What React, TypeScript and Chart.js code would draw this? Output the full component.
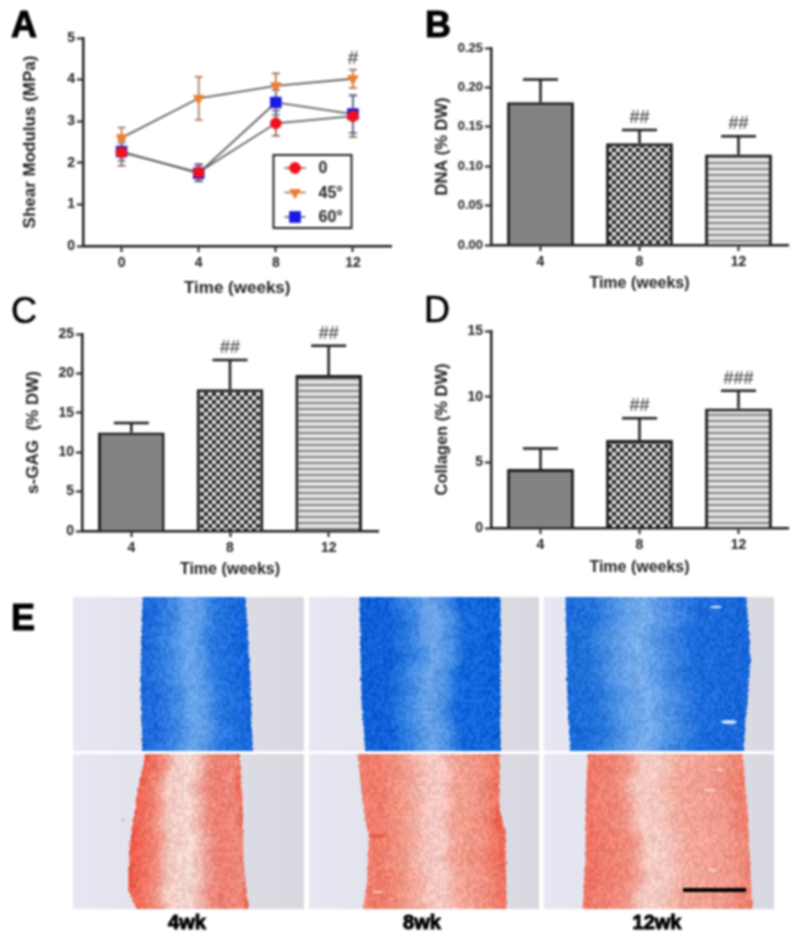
import React, { useEffect, useRef } from "react";
import { Chart, registerables } from "chart.js";
import { drawPoint } from "chart.js/helpers";

Chart.register(...registerables);

// ---------- data ----------
const weeks = [0, 4, 8, 12];
const weekTicks = [0, 4, 8, 12];
const shearTicks = [0, 1, 2, 3, 4, 5];

const shear0 = [2.25, 1.77, 2.95, 3.12];
const shear0Err = [0.32, 0.2, 0.3, 0.5];
const shear45 = [2.6, 3.55, 3.85, 4.02];
const shear45Err = [0.25, 0.52, 0.3, 0.22];
const shear60 = [2.27, 1.75, 3.45, 3.17];
const shear60Err = [0.22, 0.2, 0.3, 0.45];
const shearHash = ["", "", "", "#"];
const shearHashAt = [0, 0, 0, 4.5];

const groups = ["4", "8", "12"];

const dnaMean = [0.181, 0.129, 0.115];
const dnaUpper = [0.21, 0.146, 0.138];
const dnaHash = ["", "##", "##"];
const dnaTicks = [0, 0.05, 0.1, 0.15, 0.2, 0.25];

const gagMean = [12.5, 18.0, 19.8];
const gagUpper = [13.7, 21.7, 23.5];
const gagHash = ["", "##", "##"];
const gagTicks = [0, 5, 10, 15, 20, 25];

const colMean = [4.5, 6.7, 9.1];
const colUpper = [6.05, 8.35, 10.45];
const colHash = ["", "##", "###"];
const colTicks = [0, 5, 10, 15];

const FONT = '"Liberation Sans", Arial, sans-serif';
const INK = "#1e1e1e";
const TEXT = "#222";

// ---------- bar fills ----------
function makePattern(size: number, paint: (c: CanvasRenderingContext2D) => void) {
  const cv = document.createElement("canvas");
  cv.width = size;
  cv.height = size;
  const c = cv.getContext("2d")!;
  paint(c);
  return c.createPattern(cv, "repeat")!;
}
function patterns() {
  const gray = makePattern(2, (c) => {
    c.fillStyle = "#6e6e6e";
    c.fillRect(0, 0, 2, 2);
    c.fillStyle = "#989898";
    c.fillRect(0, 0, 1, 1);
    c.fillRect(1, 1, 1, 1);
  });
  const dots = makePattern(8, (c) => {
    c.fillStyle = "#8a8a8a";
    c.fillRect(0, 0, 8, 8);
    const dot = (x: number, y: number, col: string) => {
      c.fillStyle = col;
      c.beginPath();
      c.arc(x, y, 1.8, 0, Math.PI * 2);
      c.fill();
    };
    dot(2, 2, "#000");
    dot(6, 6, "#000");
    dot(6, 2, "#fff");
    dot(2, 6, "#fff");
  });
  const stripes = makePattern(6, (c) => {
    c.fillStyle = "#e4e4e4";
    c.fillRect(0, 0, 6, 6);
    c.fillStyle = "#808080";
    c.fillRect(0, 0, 6, 2);
  });
  return [gray, dots, stripes];
}

// ---------- plugins ----------
const barErrorPlugin = {
  id: "barError",
  afterDatasetsDraw(chart: any, _a: any, o: any) {
    const { ctx } = chart;
    const meta = chart.getDatasetMeta(0);
    const y = chart.scales.y;
    ctx.save();
    ctx.strokeStyle = INK;
    ctx.lineWidth = 2.5;
    o.upper.forEach((u: number, i: number) => {
      const x = meta.data[i].x;
      const top = y.getPixelForValue(u);
      const base = y.getPixelForValue(o.mean[i]);
      ctx.beginPath();
      ctx.moveTo(x, base);
      ctx.lineTo(x, top);
      ctx.moveTo(x - o.cap, top);
      ctx.lineTo(x + o.cap, top);
      ctx.stroke();
      if (o.hash[i]) {
        ctx.font = `18px ${FONT}`;
        ctx.fillStyle = "#2a2a2a";
        ctx.textAlign = "center";
        ctx.textBaseline = "middle";
        ctx.fillText(o.hash[i], x, top - 12);
      }
    });
    ctx.restore();
  },
};

const lineExtrasPlugin = {
  id: "lineExtras",
  beforeDatasetsDraw(chart: any, _a: any, o: any) {
    const { ctx, scales } = chart;
    ctx.save();
    ctx.lineWidth = 1.6;
    chart.data.datasets.forEach((ds: any, k: number) => {
      ctx.strokeStyle = o.errorColors[k];
      ds.data.forEach((p: any, i: number) => {
        const x = scales.x.getPixelForValue(p.x);
        const hi = scales.y.getPixelForValue(p.y + o.errors[k][i]);
        const lo = scales.y.getPixelForValue(p.y - o.errors[k][i]);
        ctx.beginPath();
        ctx.moveTo(x, hi);
        ctx.lineTo(x, lo);
        ctx.moveTo(x - 4, hi);
        ctx.lineTo(x + 4, hi);
        ctx.moveTo(x - 4, lo);
        ctx.lineTo(x + 4, lo);
        ctx.stroke();
      });
    });
    ctx.restore();
  },
  afterDatasetsDraw(chart: any, _a: any, o: any) {
    const { ctx, scales } = chart;
    ctx.save();
    // significance mark
    ctx.font = `19px ${FONT}`;
    ctx.fillStyle = "#2a2a2a";
    ctx.textAlign = "center";
    ctx.textBaseline = "middle";
    o.hash.forEach((h: string, i: number) => {
      if (h) ctx.fillText(h, scales.x.getPixelForValue(weeks[i]), scales.y.getPixelForValue(o.hashAt[i]));
    });
    // legend box
    const b = o.box;
    ctx.fillStyle = "#fff";
    ctx.fillRect(b.x, b.y, b.w, b.h);
    ctx.strokeStyle = "#222";
    ctx.lineWidth = 2;
    ctx.strokeRect(b.x, b.y, b.w, b.h);
    chart.data.datasets.forEach((ds: any, k: number) => {
      const ry = b.y + 13 + k * 24.5;
      ctx.strokeStyle = o.errorColors[k];
      ctx.lineWidth = 1.6;
      ctx.beginPath();
      ctx.moveTo(b.x + 11, ry);
      ctx.lineTo(b.x + 32, ry);
      ctx.stroke();
      ctx.fillStyle = ds.pointBackgroundColor;
      ctx.strokeStyle = ds.pointBackgroundColor;
      ctx.lineWidth = 1;
      drawPoint(ctx, {
        pointStyle: ds.pointStyle,
        radius: ds.pointRadius,
        rotation: ds.pointRotation || 0,
        borderWidth: 1,
      }, b.x + 21.5, ry);
      ctx.fillStyle = TEXT;
      ctx.font = `bold 16px ${FONT}`;
      ctx.textAlign = "left";
      ctx.textBaseline = "middle";
      ctx.fillText(ds.label, b.x + 45, ry + 1);
    });
    ctx.restore();
  },
};

// ---------- shared axis options ----------
function yAxis(label: string, ticks: number[], min: number, max: number, width: number, titleX: number, size: number, titleSize: number, digits = 0) {
  return {
    min,
    max,
    afterFit(s: any) { s.width = width; },
    afterBuildTicks(s: any) { s.ticks = ticks.map((v) => ({ value: v })); },
    border: { display: true, color: INK, width: 2.5 },
    grid: { display: true, drawOnChartArea: false, drawTicks: true, tickLength: 6, tickWidth: 2, tickColor: INK },
    ticks: {
      padding: 2,
      color: TEXT,
      font: { family: FONT, size, weight: "bold" },
      callback: (v: number) => Number(v).toFixed(digits),
      autoSkip: false,
    },
    title: {
      display: true,
      text: label,
      color: TEXT,
      font: { family: FONT, size: titleSize, weight: "bold" },
      padding: { top: titleX - titleSize * 0.6, bottom: 0 },
    },
  };
}
function xTitle(titleFromBottom: number, size: number) {
  return {
    display: true,
    text: "Time (weeks)",
    color: TEXT,
    font: { family: FONT, size, weight: "bold" },
    padding: { top: 0, bottom: titleFromBottom - size * 0.6 },
  };
}

function barConfig(fills: any[], p: any): any {
  return {
    type: "bar",
    data: {
      labels: groups,
      datasets: [{
        data: p.mean,
        backgroundColor: fills,
        borderColor: INK,
        borderWidth: 3,
        borderSkipped: "bottom",
        barPercentage: 0.675,
        categoryPercentage: 1,
      }],
    },
    options: {
      animation: false,
      responsive: false,
      layout: { padding: p.pad },
      plugins: {
        legend: { display: false },
        tooltip: { enabled: false },
        barError: { mean: p.mean, upper: p.upper, hash: p.hash, cap: 17.5 },
      },
      scales: {
        x: {
          afterFit(s: any) { s.height = p.xh; },
          border: { display: true, color: INK, width: 2.5 },
          grid: { display: true, offset: false, drawOnChartArea: false, drawTicks: true, tickLength: 6, tickWidth: 2, tickColor: INK },
          ticks: { padding: 3, color: TEXT, font: { family: FONT, size: 14, weight: "bold" } },
          title: xTitle(p.titleFromBottom, 16),
        },
        y: yAxis(p.label, p.ticks, p.min, p.max, p.yw, p.titleX, p.tickSize, p.titleSize, p.digits),
      },
    },
    plugins: [barErrorPlugin],
  };
}

function lineConfig(): any {
  const pts = (ys: number[]) => ys.map((y, i) => ({ x: weeks[i], y }));
  const base = { showLine: true, borderColor: "#606060", borderWidth: 1.8, tension: 0, pointBorderWidth: 1 };
  return {
    type: "scatter",
    data: {
      datasets: [
        { ...base, label: "0", data: pts(shear0), pointStyle: "circle", pointRadius: 5.4, pointBackgroundColor: "#f0101e", pointBorderColor: "#f0101e" },
        { ...base, label: "45°", data: pts(shear45), pointStyle: "triangle", pointRotation: 180, pointRadius: 6, pointBackgroundColor: "#ef7d2d", pointBorderColor: "#ef7d2d" },
        { ...base, label: "60°", data: pts(shear60), pointStyle: "rect", pointRadius: 7.5, pointBackgroundColor: "#1a1ae0", pointBorderColor: "#1a1ae0" },
      ],
    },
    options: {
      animation: false,
      responsive: false,
      layout: { padding: { left: 0, top: 38, right: 4, bottom: 0 } },
      plugins: {
        legend: { display: false },
        tooltip: { enabled: false },
        lineExtras: {
          errors: [shear0Err, shear45Err, shear60Err],
          errorColors: ["#8a5456", "#a86e4c", "#52688c"],
          hash: shearHash,
          hashAt: shearHashAt,
          box: { x: 273.5, y: 155, w: 78, h: 73 },
        },
      },
      scales: {
        x: {
          type: "linear",
          min: -2,
          max: 14,
          afterFit(s: any) { s.height = 54; },
          afterBuildTicks(s: any) { s.ticks = weekTicks.map((v) => ({ value: v })); },
          border: { display: true, color: INK, width: 2.5 },
          grid: { display: true, drawOnChartArea: false, drawTicks: true, tickLength: 6, tickWidth: 2, tickColor: INK },
          ticks: { padding: 3, color: TEXT, font: { family: FONT, size: 14, weight: "bold" } },
          title: xTitle(12, 17),
        },
        y: yAxis("Shear Modulus (MPa)", shearTicks, 0, 5, 83, 30, 14, 17),
      },
    },
    plugins: [lineExtrasPlugin],
  };
}

// ---------- stained sections (photographs in the reference) ----------
type Stop = [number, string];
const BLUE1: Stop[] = [[0, "#1c68d8"], [0.1, "#1c6adc"], [0.3, "#4088e4"], [0.45, "#6aa6ec"], [0.56, "#5c9ce8"], [0.68, "#2c7ae0"], [0.82, "#1e6edc"], [1, "#1464dc"]];
const BLUE2: Stop[] = [[0, "#1060d8"], [0.2, "#0e60d8"], [0.36, "#3a86e2"], [0.5, "#6ca4e8"], [0.62, "#4a90e4"], [0.72, "#1268dc"], [1, "#0e62d8"]];
const BLUE3: Stop[] = [[0, "#1a6ad8"], [0.15, "#2474dc"], [0.3, "#5a9ae6"], [0.42, "#78aeec"], [0.56, "#4a8ee4"], [0.72, "#1c6cdc"], [1, "#1666d8"]];
const RED1: Stop[] = [[0, "#ef5a48"], [0.1, "#f0705f"], [0.22, "#f09080"], [0.32, "#f2c8c0"], [0.5, "#f4d8d2"], [0.6, "#f0b8ae"], [0.7, "#ee8c80"], [0.8, "#ec7c70"], [0.95, "#ee8a7c"], [1, "#ef6a58"]];
const RED2: Stop[] = [[0, "#f08070"], [0.1, "#ef7a68"], [0.3, "#f09c8c"], [0.45, "#f4c4bc"], [0.55, "#f6ccc6"], [0.65, "#f2a698"], [0.85, "#f0907e"], [1, "#ee6a58"]];
const RED3: Stop[] = [[0, "#ee7464"], [0.2, "#f08878"], [0.27, "#f09688"], [0.35, "#f4c8c0"], [0.45, "#f4ccc4"], [0.6, "#f2a89a"], [0.85, "#f09a8c"], [1, "#ee7e6c"]];

const sections = [
  { x: [73, 304], y: [597, 751], left: [[597, 142], [680, 140], [751, 142]], right: [[597, 245], [680, 250], [751, 252]], stops: BLUE1 },
  { x: [309, 539], y: [597, 751], left: [[597, 359], [700, 361], [751, 365]], right: [[597, 500], [751, 500]], stops: BLUE2 },
  { x: [544, 774], y: [597, 751], left: [[597, 565], [700, 567], [751, 570]], right: [[597, 746], [660, 750], [700, 747], [751, 743]], stops: BLUE3 },
  { x: [73, 304], y: [754, 909], left: [[754, 145], [790, 137], [845, 129], [890, 128], [909, 136]], right: [[754, 239], [800, 242], [860, 243], [909, 248]], stops: RED1 },
  { x: [309, 539], y: [754, 909], left: [[754, 357], [810, 363], [835, 368], [880, 367], [909, 362]], right: [[754, 499], [810, 499], [830, 505], [909, 506]], stops: RED2 },
  { x: [544, 774], y: [754, 909], left: [[754, 587], [810, 585], [860, 585], [909, 582]], right: [[754, 742], [810, 747], [909, 752]], stops: RED3 },
];
const scaleBar = { x: 683, y: 888, w: 63, h: 4 };
// visible features of the photographs: [x, y, rx, ry, colour]
const flecks: [number, number, number, number, string][] = [
  [430, 625, 12, 22, "rgba(122,170,236,0.4)"],
  [716, 607, 6, 1.5, "rgba(240,248,255,0.8)"],
  [729, 722, 8, 2, "rgba(240,248,255,0.85)"],
  [378, 836, 9, 1.5, "rgba(226,64,48,0.7)"],
  [498, 820, 3, 12, "rgba(232,76,60,0.5)"],
  [378, 892, 5, 1, "rgba(255,240,232,0.8)"],
  [710, 790, 5, 1, "rgba(255,240,232,0.7)"],
  [720, 770, 4, 1, "rgba(255,240,232,0.6)"],
  [712, 870, 4, 1.5, "rgba(255,240,232,0.6)"],
  [123, 820, 1.5, 1.5, "rgba(170,170,180,0.7)"],
];

const rgb = (h: string) => [1, 3, 5].map((i) => parseInt(h.slice(i, i + 2), 16));
const lerp = (a: number, b: number, t: number) => a + (b - a) * t;
function edge(pts: number[][], y: number) {
  for (let i = 1; i < pts.length; i++) {
    if (y <= pts[i][0]) {
      return lerp(pts[i - 1][1], pts[i][1], (y - pts[i - 1][0]) / (pts[i][0] - pts[i - 1][0]));
    }
  }
  return pts[pts.length - 1][1];
}
const grain = (a: number, b: number) => {
  const s = Math.sin(a * 12.9898 + b * 78.233) * 43758.5453;
  return (s - Math.floor(s)) * 2 - 1;
};
function drawSections(cv: HTMLCanvasElement) {
  const c = cv.getContext("2d")!;
  const W = cv.width;
  const H = cv.height;
  const img = c.createImageData(W, H);
  const d = img.data;
  for (let i = 0; i < d.length; i += 4) { d[i] = d[i + 1] = d[i + 2] = 255; d[i + 3] = 255; }
  sections.forEach((s) => {
    const st = s.stops.map(([t, h]) => [t, ...rgb(h)] as number[]);
    for (let py = s.y[0]; py < s.y[1]; py++) {
      const L = edge(s.left, py) + grain(py, 3) * 0.8;
      const R = edge(s.right, py) + grain(py, 7) * 0.8;
      for (let px = s.x[0]; px < s.x[1]; px++) {
        const k = (py * W + px) * 4;
        const f = (px - s.x[0]) / (s.x[1] - s.x[0]);
        let col: number[];
        if (px < L || px >= R) {
          col = [lerp(231, 216, f), lerp(231, 216, f), lerp(243, 224, f)];
        } else {
          const t = Math.min(1, Math.max(0, (px - L) / (R - L) + 0.03 * Math.sin(py * 0.045 + s.x[0]) + 0.015 * Math.sin(py * 0.17)));
          let j = 1;
          while (j < st.length - 1 && t > st[j][0]) j++;
          const u = (t - st[j - 1][0]) / (st[j][0] - st[j - 1][0]);
          const n = grain(Math.floor(px / 2), Math.floor(py / 3)) * 15;
          col = [1, 2, 3].map((q) => lerp(st[j - 1][q], st[j][q], u) + n);
        }
        d[k] = col[0]; d[k + 1] = col[1]; d[k + 2] = col[2];
      }
    }
  });
  c.putImageData(img, 0, 0);
  flecks.forEach(([x, y, rx, ry, col]) => {
    c.fillStyle = col;
    c.beginPath();
    c.ellipse(x, y, rx, ry, 0, 0, Math.PI * 2);
    c.fill();
  });
  c.fillStyle = "#000";
  c.fillRect(scaleBar.x, scaleBar.y, scaleBar.w, scaleBar.h);
}

// ---------- page ----------
const panelLetters = [
  { t: "A", x: 11, base: 37, heavy: true },
  { t: "B", x: 425, base: 37, heavy: true },
  { t: "C", x: 11, base: 323, heavy: false },
  { t: "D", x: 424, base: 322, heavy: false },
  { t: "E", x: 11, base: 630, heavy: true },
];
const stainLabels = [
  { t: "4wk", x: 187 },
  { t: "8wk", x: 422 },
  { t: "12wk", x: 657 },
];
const place = [
  { left: 0, top: 0, width: 400, height: 300 },
  { left: 400, top: 0, width: 400, height: 300 },
  { left: 0, top: 300, width: 400, height: 290 },
  { left: 400, top: 300, width: 400, height: 290 },
];

export default function App() {
  const a = useRef<HTMLCanvasElement>(null);
  const b = useRef<HTMLCanvasElement>(null);
  const c = useRef<HTMLCanvasElement>(null);
  const d = useRef<HTMLCanvasElement>(null);
  const e = useRef<HTMLCanvasElement>(null);

  useEffect(() => {
    const fills = patterns();
    const charts = [
      new Chart(a.current!, lineConfig()),
      new Chart(b.current!, barConfig(fills, {
        mean: dnaMean, upper: dnaUpper, hash: dnaHash, label: "DNA (% DW)", ticks: dnaTicks, min: 0, max: 0.25,
        yw: 91, xh: 55, titleX: 42, titleFromBottom: 16, tickSize: 13, titleSize: 16.5, digits: 2,
        pad: { left: 0, top: 48, right: 12, bottom: 0 },
      })),
      new Chart(c.current!, barConfig(fills, {
        mean: gagMean, upper: gagUpper, hash: gagHash, label: "s-GAG  (% DW)", ticks: gagTicks, min: 0, max: 25,
        yw: 82, xh: 59, titleX: 33, titleFromBottom: 20, tickSize: 14, titleSize: 17, digits: 0,
        pad: { left: 0, top: 34, right: 22, bottom: 0 },
      })),
      new Chart(d.current!, barConfig(fills, {
        mean: colMean, upper: colUpper, hash: colHash, label: "Collagen (% DW)", ticks: colTicks, min: 0, max: 15,
        yw: 91, xh: 62, titleX: 42, titleFromBottom: 22, tickSize: 14, titleSize: 16.5, digits: 0,
        pad: { left: 0, top: 31, right: 12, bottom: 0 },
      })),
    ];
    drawSections(e.current!);
    return () => charts.forEach((ch) => ch.destroy());
  }, []);

  const refs = [a, b, c, d];
  return (
    <div style={{ position: "absolute", left: 0, top: 0, width: 800, height: 947, overflow: "hidden", background: "#fff", filter: "blur(0.8px)" }}>
      <canvas ref={e} width={800} height={947} style={{ position: "absolute", left: 0, top: 0 }} />
      {refs.map((r, i) => (
        <canvas key={i} ref={r} width={place[i].width} height={place[i].height} style={{ position: "absolute", ...place[i] }} />
      ))}
      {panelLetters.map((l) => (
        <div key={l.t} style={{
          position: "absolute", left: l.x, top: l.base - 0.8465 * 36, fontFamily: FONT, fontSize: 36, lineHeight: 1,
          fontWeight: l.heavy ? 700 : 400, color: "#000",
          WebkitTextStroke: l.heavy ? "1px #000" : "0.5px #000",
        }}>{l.t}</div>
      ))}
      {stainLabels.map((l) => (
        <div key={l.t} style={{
          position: "absolute", left: l.x - 50, width: 100, top: 912, textAlign: "center", fontFamily: FONT, fontSize: 20,
          lineHeight: "20px", fontWeight: 700, color: "#000", WebkitTextStroke: "1px #000",
        }}>{l.t}</div>
      ))}
    </div>
  );
}
